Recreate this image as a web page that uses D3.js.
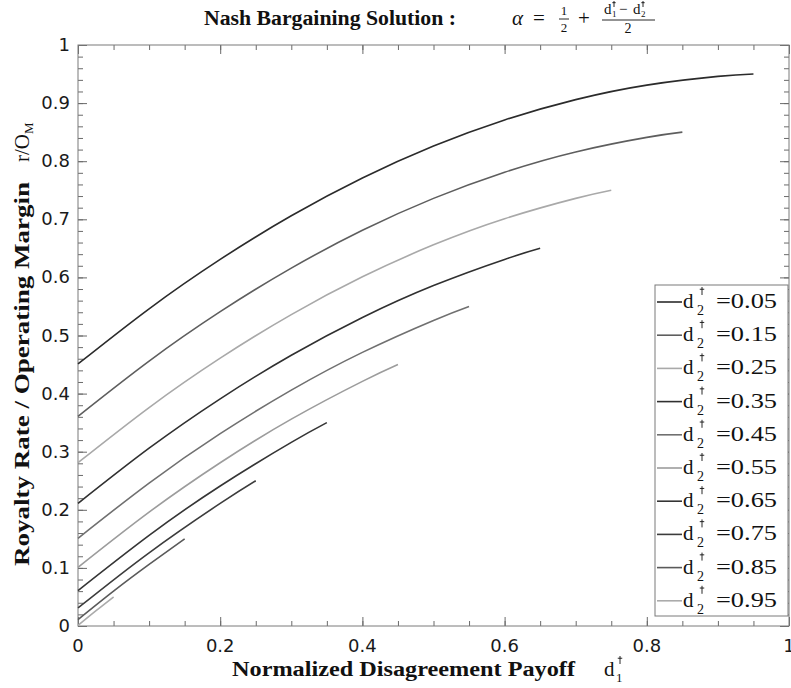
<!DOCTYPE html>
<html>
<head>
<meta charset="utf-8">
<script src="https://cdn.jsdelivr.net/npm/d3@7"></script>
<style>
  body { margin: 0; background: #fff; }
  svg { display: block; }
</style>
</head>
<body>
<svg id="chart" width="791" height="688"></svg>
<script>

// d2 values of the ten curves
var d2Values = ['0.05', '0.15', '0.25', '0.35', '0.45', '0.55', '0.65', '0.75', '0.85', '0.95'];

// x points (d1) and the read-off royalty rate, one array per curve
var xs005 = [0, 0.1, 0.2, 0.3, 0.4, 0.5, 0.6, 0.7, 0.8, 0.9, 0.95];
var ys005 = [0.451, 0.546, 0.631, 0.706, 0.771, 0.826, 0.871, 0.906, 0.931, 0.946, 0.95];
var xs015 = [0, 0.1, 0.2, 0.3, 0.4, 0.5, 0.6, 0.7, 0.8, 0.85];
var ys015 = [0.361, 0.456, 0.541, 0.616, 0.681, 0.736, 0.781, 0.816, 0.841, 0.85];
var xs025 = [0, 0.1, 0.2, 0.3, 0.4, 0.5, 0.6, 0.7, 0.75];
var ys025 = [0.281, 0.376, 0.461, 0.536, 0.601, 0.656, 0.701, 0.736, 0.75];
var xs035 = [0, 0.1, 0.2, 0.3, 0.4, 0.5, 0.6, 0.65];
var ys035 = [0.211, 0.306, 0.391, 0.466, 0.531, 0.586, 0.631, 0.65];
var xs045 = [0, 0.1, 0.2, 0.3, 0.4, 0.5, 0.55];
var ys045 = [0.151, 0.246, 0.331, 0.406, 0.471, 0.526, 0.55];
var xs055 = [0, 0.1, 0.2, 0.3, 0.4, 0.45];
var ys055 = [0.101, 0.196, 0.281, 0.356, 0.421, 0.45];
var xs065 = [0, 0.1, 0.2, 0.3, 0.35];
var ys065 = [0.061, 0.156, 0.241, 0.316, 0.35];
var xs075 = [0, 0.1, 0.2, 0.25];
var ys075 = [0.031, 0.126, 0.211, 0.25];
var xs085 = [0, 0.05, 0.1, 0.15];
var ys085 = [0.011, 0.06, 0.106, 0.15];
var xs095 = [0, 0.025, 0.05];
var ys095 = [0.001, 0.026, 0.05];

var xTickLabels = ['0', '0.2', '0.4', '0.6', '0.8', '1'];
var yTickLabels = ['0', '0.1', '0.2', '0.3', '0.4', '0.5', '0.6', '0.7', '0.8', '0.9', '1'];

var lineColors = ['#2b2b2b', '#5e5e5e', '#a9a9a9', '#303030', '#707070',
                  '#9c9c9c', '#353535', '#3c3c3c', '#5a5a5a', '#ababab'];

var serif = '"Liberation Serif", "DejaVu Serif", serif';
var sans  = '"DejaVu Sans", sans-serif';

var plotLeft = 78, plotRight = 789, plotTop = 45, plotBottom = 626;

var svg = d3.select('#chart');

var x = d3.scaleLinear().domain([0, 1]).range([plotLeft, plotRight]);
var y = d3.scaleLinear().domain([0, 1]).range([plotBottom, plotTop]);

var xsAll = [xs005, xs015, xs025, xs035, xs045, xs055, xs065, xs075, xs085, xs095];
var ysAll = [ys005, ys015, ys025, ys035, ys045, ys055, ys065, ys075, ys085, ys095];

// small dagger drawn as two strokes (font daggers render oddly here)
function dagger(g, cx, y0, h) {
    g.append('line')
        .attr('x1', cx).attr('x2', cx)
        .attr('y1', y0).attr('y2', y0 + h)
        .attr('stroke', '#111').attr('stroke-width', 0.9);
    g.append('line')
        .attr('x1', cx - h * 0.28).attr('x2', cx + h * 0.28)
        .attr('y1', y0 + h * 0.28).attr('y2', y0 + h * 0.28)
        .attr('stroke', '#111').attr('stroke-width', 0.9);
}

// ---- ticks, all pointing inwards on the four sides
var xMinor = d3.range(0, 21).map(function(i) { return i * 0.05; });
var xMajor = xTickLabels.map(Number);
var yMinor = d3.range(0, 51).map(function(i) { return i * 0.02; });
var yMajor = yTickLabels.map(Number);

function tickAxis(axis, pos, values, size) {
    var g = svg.append('g')
        .attr('transform', pos)
        .call(axis.tickValues(values).tickSize(size).tickFormat(''));
    g.select('.domain').remove();
    g.selectAll('line').attr('stroke', '#6a6a6a').attr('stroke-width', 1);
    return g;
}

tickAxis(d3.axisBottom(x), 'translate(0,' + plotBottom + ')', xMinor, -5);
tickAxis(d3.axisBottom(x), 'translate(0,' + plotBottom + ')', xMajor, -9);
tickAxis(d3.axisTop(x), 'translate(0,' + plotTop + ')', xMinor, -5);
tickAxis(d3.axisTop(x), 'translate(0,' + plotTop + ')', xMajor, -9);
tickAxis(d3.axisLeft(y), 'translate(' + plotLeft + ',0)', yMinor, -5);
tickAxis(d3.axisLeft(y), 'translate(' + plotLeft + ',0)', yMajor, -9);
tickAxis(d3.axisRight(y), 'translate(' + plotRight + ',0)', yMinor, -5);
tickAxis(d3.axisRight(y), 'translate(' + plotRight + ',0)', yMajor, -9);

// tick labels
svg.append('g').selectAll('text')
    .data(xTickLabels)
    .enter().append('text')
    .attr('x', function(d) { return x(+d); })
    .attr('y', 652)
    .attr('text-anchor', 'middle')
    .attr('font-family', sans)
    .attr('font-size', 18)
    .attr('fill', '#1a1a1a')
    .text(function(d) { return d; });

svg.append('g').selectAll('text')
    .data(yTickLabels)
    .enter().append('text')
    .attr('x', 70)
    .attr('y', function(d) { return y(+d) + 6; })
    .attr('text-anchor', 'end')
    .attr('font-family', sans)
    .attr('font-size', 18)
    .attr('fill', '#1a1a1a')
    .text(function(d) { return d; });

// frame
svg.append('rect')
    .attr('x', plotLeft).attr('y', plotTop)
    .attr('width', plotRight - plotLeft).attr('height', plotBottom - plotTop)
    .attr('fill', 'none')
    .attr('stroke', '#7a7a7a')
    .attr('stroke-width', 1);

// ---- curves
var line = d3.line()
    .x(function(d) { return x(d[0]); })
    .y(function(d) { return y(d[1]); })
    .curve(d3.curveNatural);

var index;
for (index = 0; index < d2Values.length; index++) {
    var pts = xsAll[index].map(function(v, i) { return [v, ysAll[index][i]]; });
    svg.append('path')
        .datum(pts)
        .attr('d', line)
        .attr('fill', 'none')
        .attr('stroke', lineColors[index])
        .attr('stroke-width', 1.6);
}

// ---- legend
var legend = svg.append('g');

legend.append('rect')
    .attr('x', 655).attr('y', 285)
    .attr('width', 133).attr('height', 331)
    .attr('fill', '#fff')
    .attr('stroke', '#7a7a7a')
    .attr('stroke-width', 1);

d2Values.forEach(function(v, i) {
    var ly = 302 + i * 33.2;
    var base = ly + 6;

    legend.append('line')
        .attr('x1', 657).attr('x2', 682)
        .attr('y1', ly).attr('y2', ly)
        .attr('stroke', lineColors[i])
        .attr('stroke-width', 1.6);

    legend.append('text')
        .attr('x', 683).attr('y', base)
        .attr('font-family', serif).attr('font-size', 21)
        .attr('fill', '#111')
        .text('d');
    dagger(legend, 702, base - 21, 8);
    legend.append('text')
        .attr('x', 697).attr('y', base + 7)
        .attr('font-family', serif).attr('font-size', 14)
        .attr('fill', '#111')
        .text('2');
    legend.append('text')
        .attr('x', 716).attr('y', base)
        .attr('font-family', serif).attr('font-size', 21)
        .attr('fill', '#111')
        .attr('textLength', 61).attr('lengthAdjust', 'spacingAndGlyphs')
        .text('=' + v);
});

// ---- title
var title = svg.append('g').attr('fill', '#111').attr('font-family', serif);

title.append('text')
    .attr('x', 204).attr('y', 25)
    .attr('font-size', 20).attr('font-weight', 'bold')
    .attr('textLength', 252).attr('lengthAdjust', 'spacingAndGlyphs')
    .text('Nash Bargaining Solution :');

title.append('text')
    .attr('x', 512).attr('y', 25)
    .attr('font-size', 21).attr('font-style', 'italic')
    .text('\u03b1');
title.append('text')
    .attr('x', 533).attr('y', 25)
    .attr('font-size', 21)
    .text('=');
// 1/2
title.append('text').attr('x', 564).attr('y', 15).attr('font-size', 13).attr('text-anchor', 'middle').text('1');
title.append('line').attr('x1', 559).attr('x2', 569).attr('y1', 19).attr('y2', 19).attr('stroke', '#111').attr('stroke-width', 0.9);
title.append('text').attr('x', 564).attr('y', 32).attr('font-size', 13).attr('text-anchor', 'middle').text('2');
title.append('text')
    .attr('x', 578).attr('y', 25)
    .attr('font-size', 21)
    .text('+');
// (d1 - d2)/2
title.append('text').attr('x', 604).attr('y', 14).attr('font-size', 15).text('d');
title.append('text').attr('x', 612).attr('y', 17).attr('font-size', 9).text('1');
dagger(title, 614, 1, 6);
title.append('text').attr('x', 619).attr('y', 14).attr('font-size', 15).text('\u2212');
title.append('text').attr('x', 633).attr('y', 14).attr('font-size', 15).text('d');
title.append('text').attr('x', 641).attr('y', 17).attr('font-size', 9).text('2');
dagger(title, 643, 1, 6);
title.append('line').attr('x1', 602).attr('x2', 655).attr('y1', 20).attr('y2', 20).attr('stroke', '#111').attr('stroke-width', 0.9);
title.append('text').attr('x', 628).attr('y', 33).attr('font-size', 14).attr('text-anchor', 'middle').text('2');

// ---- x label
var xl = svg.append('g').attr('fill', '#111').attr('font-family', serif);
xl.append('text')
    .attr('x', 232).attr('y', 676)
    .attr('font-size', 20).attr('font-weight', 'bold')
    .attr('textLength', 343).attr('lengthAdjust', 'spacingAndGlyphs')
    .text('Normalized Disagreement Payoff');
xl.append('text').attr('x', 604).attr('y', 676).attr('font-size', 21).text('d');
xl.append('text').attr('x', 616).attr('y', 682).attr('font-size', 13).text('1');
dagger(xl, 620, 656, 8);

// ---- y label
var yl = svg.append('g').attr('fill', '#111').attr('font-family', serif)
    .attr('transform', 'translate(29,0) rotate(-90)');
yl.append('text')
    .attr('x', -566).attr('y', 0)
    .attr('font-size', 20).attr('font-weight', 'bold')
    .attr('textLength', 384).attr('lengthAdjust', 'spacingAndGlyphs')
    .text('Royalty Rate / Operating Margin');
var rom = yl.append('text').attr('x', -162).attr('y', 0).attr('font-size', 21);
rom.append('tspan').text('r/O');
rom.append('tspan').attr('font-size', 13).attr('dy', 4).text('M');

</script>
</body>
</html>
